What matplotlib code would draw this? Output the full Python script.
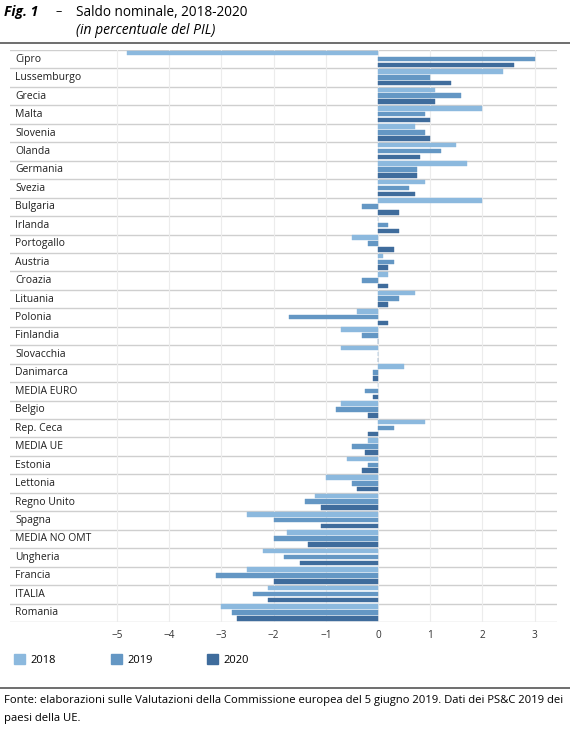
import matplotlib
matplotlib.use("Agg")
import matplotlib.pyplot as plt
from matplotlib.patches import Patch
from matplotlib.lines import Line2D

plt.rcParams['font.family'] = ['Open Sans', 'DejaVu Sans']

paesi = ["Cipro", "Lussemburgo", "Grecia", "Malta", "Slovenia", "Olanda", "Germania",
         "Svezia", "Bulgaria", "Irlanda", "Portogallo", "Austria", "Croazia", "Lituania",
         "Polonia", "Finlandia", "Slovacchia", "Danimarca", "MEDIA EURO", "Belgio",
         "Rep. Ceca", "MEDIA UE", "Estonia", "Lettonia", "Regno Unito", "Spagna",
         "MEDIA NO OMT", "Ungheria", "Francia", "ITALIA", "Romania"]

v2018 = [-4.8, 2.4, 1.1, 2.0, 0.7, 1.5, 1.7, 0.9, 2.0, 0.0, -0.5, 0.1, 0.2, 0.7,
         -0.4, -0.7, -0.7, 0.5, 0.0, -0.7, 0.9, -0.2, -0.6, -1.0, -1.2, -2.5,
         -1.75, -2.2, -2.5, -2.1, -3.0]
v2019 = [3.0, 1.0, 1.6, 0.9, 0.9, 1.2, 0.75, 0.6, -0.3, 0.2, -0.2, 0.3, -0.3, 0.4,
         -1.7, -0.3, 0.0, -0.1, -0.25, -0.8, 0.3, -0.5, -0.2, -0.5, -1.4, -2.0,
         -2.0, -1.8, -3.1, -2.4, -2.8]
v2020 = [2.6, 1.4, 1.1, 1.0, 1.0, 0.8, 0.75, 0.7, 0.4, 0.4, 0.3, 0.2, 0.2, 0.2,
         0.2, 0.0, 0.0, -0.1, -0.1, -0.2, -0.2, -0.25, -0.3, -0.4, -1.1, -1.1,
         -1.35, -1.5, -2.0, -2.1, -2.7]

anni = ["2018", "2019", "2020"]
colori = ["#8cb9de", "#6497c4", "#3f6c9c"]

W, H = 570, 745
fig = plt.figure(figsize=(W / 100, H / 100), dpi=100)
ax = fig.add_axes([10 / W, 1 - 622 / H, 547 / W, 572 / H])

y = list(range(len(paesi)))
offsets = [-0.34, -0.02, 0.30]
for serie, col, off in zip([v2018, v2019, v2020], colori, offsets):
    ax.barh([i + off for i in y], serie, height=0.245, color=col,
            edgecolor=col, linewidth=0.3, zorder=3)

ax.set_ylim(len(paesi) - 0.5, -0.5)
ax.set_xlim(-7.05, 3.43)
ax.set_xticks(range(-5, 4))
ax.set_yticks([])
ax.grid(axis='x', color='#ececec', linewidth=0.8, zorder=0)
for k in range(len(paesi) + 1):
    ax.axhline(k - 0.5, color='#cfcfcf', linewidth=1.0, zorder=1)
for s in ax.spines.values():
    s.set_visible(False)
ax.tick_params(axis='x', length=0, pad=6, labelsize=7.2, labelcolor='#333333')

tr = ax.get_yaxis_transform()
for i, p in enumerate(paesi):
    ax.text(0.01, i, p, transform=tr, ha='left', va='center', fontsize=7.5,
            color='#1f1f1f')

# titolo
fig.text(4 / W, 1 - 12 / H, "Fig. 1", fontsize=10, fontweight='bold',
         fontstyle='italic', va='center', ha='left')
fig.text(55 / W, 1 - 12 / H, "–", fontsize=9, va='center', ha='left')
fig.text(76 / W, 1 - 12 / H, "Saldo nominale, 2018-2020", fontsize=9.8,
         va='center', ha='left')
fig.text(76 / W, 1 - 30 / H, "(in percentuale del PIL)", fontsize=10,
         fontstyle='italic', va='center', ha='left')

fig.add_artist(Line2D([0, 1], [1 - 43 / H, 1 - 43 / H], color='#555555', linewidth=1.2))
fig.add_artist(Line2D([0, 1], [1 - 688 / H, 1 - 688 / H], color='#555555', linewidth=1.2))

handles = [Patch(facecolor=c, edgecolor=c) for c in colori]
fig.legend(handles, anni, loc='center left', bbox_to_anchor=(4 / W, 1 - 660 / H),
           ncol=3, frameon=False, fontsize=8, handlelength=1.0, handleheight=1.0,
           handletextpad=0.5, columnspacing=4.9)

fig.text(4 / W, 1 - 701 / H,
         "Fonte: elaborazioni sulle Valutazioni della Commissione europea del 5 giugno 2019. "
         "Dati dei PS&C 2019 dei", fontsize=8.1, va='center', ha='left')
fig.text(4 / W, 1 - 718 / H, "paesi della UE.", fontsize=8.1, va='center', ha='left')

fig.savefig("out.png", dpi=100)
